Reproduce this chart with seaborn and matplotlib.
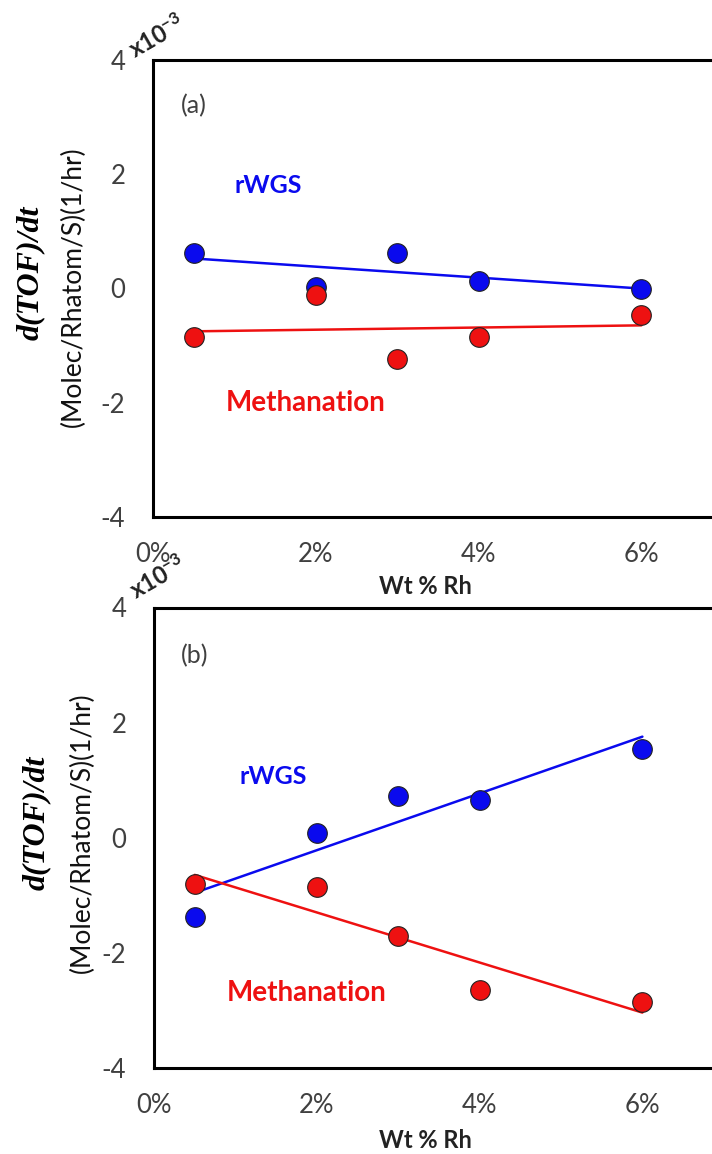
import matplotlib
matplotlib.use("Agg")
import matplotlib.pyplot as plt
import seaborn as sns
import numpy as np
from matplotlib.ticker import FuncFormatter, FixedLocator

# ---- data (values in units of 1e-3) ----
wt_rh = [0.5, 2, 3, 4, 6]                       # Wt % Rh
rwgs_a = [0.62, 0.02, 0.62, 0.12, -0.02]
meth_a = [-0.85, -0.11, -1.24, -0.85, -0.47]
rwgs_b = [-1.37, 0.08, 0.72, 0.65, 1.55]
meth_b = [-0.80, -0.86, -1.71, -2.65, -2.86]
x_ticks = [0, 2, 4, 6]
y_ticks = [-4, -2, 0, 2, 4]
panel_labels = ["(a)", "(b)"]
series_names = ["rWGS", "Methanation"]
x_label = "Wt % Rh"
y_label_top = "d(TOF)/dt"
y_label_bottom = "(Molec/Rhatom/S)(1/hr)"
scale_text = r"$\mathbf{x10^{-3}}$"

sns.set_style("white")
plt.rcParams['font.family'] = ['Lato', 'DejaVu Sans']
plt.rcParams['axes.unicode_minus'] = False
plt.rcParams['mathtext.fontset'] = 'custom'
plt.rcParams['mathtext.rm'] = 'Lato'
plt.rcParams['mathtext.bf'] = 'Lato:bold'

W, H = 712, 1154
fig = plt.figure(figsize=(W / 100, H / 100), dpi=100)

BLUE = "#0a0aee"
RED = "#ee1111"
GRAY = "#404040"

def px(x, y):
    return x / W, 1 - y / H

panels = [
    dict(rw=rwgs_a, me=meth_a, left=153, top=59.5, bottom=517,
         lab=(0.50, 3.2), rw_t=(1.41, 1.79), me_t=(1.87, -2.0),
         yl1=(30, 273), yl2=(73, 287), sc=(157, 36), xl=586),
    dict(rw=rwgs_b, me=meth_b, left=154, top=607.5, bottom=1068,
         lab=(0.50, 3.16), rw_t=(1.47, 1.07), me_t=(1.87, -2.7),
         yl1=(36, 823), yl2=(82, 833), sc=(158, 577), xl=1141),
]

for i, p in enumerate(panels):
    l = p['left'] / W
    b = 1 - p['bottom'] / H
    h = (p['bottom'] - p['top']) / H
    w = (7 * 81.4) / W
    ax = fig.add_axes([l, b, w, h])
    for name, vals, col in [(series_names[0], p['rw'], BLUE), (series_names[1], p['me'], RED)]:
        sns.regplot(x=np.array(wt_rh, float), y=np.array(vals, float), ax=ax, ci=None,
                    color=col, truncate=True,
                    scatter_kws=dict(s=200, edgecolor="#222222", linewidths=0.8,
                                     alpha=1, zorder=3),
                    line_kws=dict(lw=1.8, zorder=2))
    ax.set_xlim(0, 7)
    ax.set_ylim(-4, 4)
    ax.xaxis.set_major_locator(FixedLocator(x_ticks))
    ax.yaxis.set_major_locator(FixedLocator(y_ticks))
    ax.xaxis.set_major_formatter(FuncFormatter(lambda v, _: f"{v:.0f}%"))
    ax.yaxis.set_major_formatter(FuncFormatter(lambda v, _: f"{v:.0f}"))
    ax.tick_params(axis='both', length=0, labelsize=18.5, labelcolor=GRAY)
    ax.tick_params(axis='x', pad=18)
    ax.tick_params(axis='y', pad=20)
    for s in ['left', 'top', 'bottom']:
        ax.spines[s].set_color('black')
        ax.spines[s].set_linewidth(2.2)
    ax.spines['right'].set_visible(False)
    ax.set_xlabel("")
    ax.set_ylabel("")
    ax.grid(False)

    ax.text(*p['lab'], panel_labels[i], fontsize=18, color=GRAY, ha='center', va='center')
    ax.text(*p['rw_t'], series_names[0], fontsize=18, color=BLUE, fontweight='bold',
            ha='center', va='center')
    ax.text(*p['me_t'], series_names[1], fontsize=20, color=RED, fontweight='bold',
            ha='center', va='center')

    fig.text(*px(*p['yl1']), y_label_top, rotation=90, fontsize=23, fontweight='bold',
             fontstyle='italic', family=['Liberation Serif', 'DejaVu Serif'],
             ha='center', va='center', color='black')
    fig.text(*px(*p['yl2']), y_label_bottom, rotation=90, fontsize=19,
             ha='center', va='center', color='#111111')
    fig.text(*px(*p['sc']), scale_text, rotation=30, fontsize=17,
             ha='center', va='center', color='#222222')
    fig.text(*px(425, p['xl']), x_label, fontsize=17, fontweight='bold',
             ha='center', va='center', color='#222222')

fig.savefig("out.png", dpi=100)
